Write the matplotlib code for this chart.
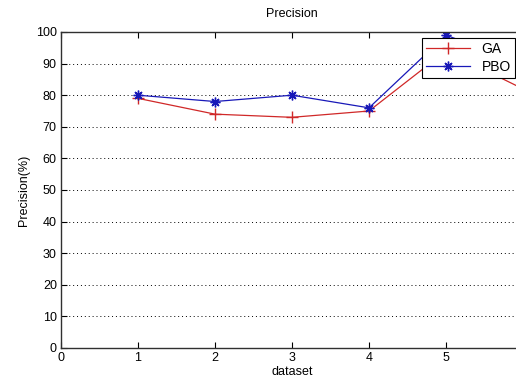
import numpy as np
import matplotlib.pyplot as plt

plt.rcParams['font.family'] = ['Liberation Sans', 'DejaVu Sans']

# data
datasets = [1, 2, 3, 4, 5, 6]
ga = [79, 74, 73, 75, 94, 82]
pbo = [80, 78, 80, 76, 99, 90]
xtick_labels = ['0', '1', '2', '3', '4', '5', '']

fig = plt.figure(figsize=(5.16, 3.77), dpi=100)
ax = fig.add_axes([61 / 516, 29 / 377, 462 / 516, 316 / 377])

ax.plot(datasets, ga, color='#d02828', marker='+', markersize=8, linewidth=0.9, label='GA')
ax.plot(datasets, pbo, color='#1818b8', marker=(8, 2, 0), markersize=7,
        markeredgewidth=1.0, linewidth=0.9, label='PBO')

ax.set_xlim(0, 6)
ax.set_ylim(0, 100)
ax.set_xticks(range(0, 7))
ax.set_xticklabels(xtick_labels)
ax.set_yticks(range(0, 101, 10))
ax.tick_params(direction='in', top=True, right=False, labelsize=9, length=4, pad=3)
ax.yaxis.grid(True, linestyle=(0, (1, 3)), color='black', linewidth=0.7)
for s in ax.spines.values():
    s.set_linewidth(1.0)
    s.set_color('#303030')
ax.spines['right'].set_visible(False)

ax.set_title('Precision', fontsize=9, pad=11)
ax.set_xlabel('dataset', fontsize=9, labelpad=1)
ax.set_ylabel('Precision(%)', fontsize=9, labelpad=4)

leg = ax.legend(loc='upper right', bbox_to_anchor=(515 / 516, 1 - 38 / 377),
                bbox_transform=fig.transFigure, fontsize=10, fancybox=False,
                framealpha=1, edgecolor='black', borderaxespad=0, handlelength=3.2,
                borderpad=0.3, labelspacing=0.25)
leg.get_frame().set_linewidth(0.8)

fig.savefig('out.png', dpi=100, facecolor='white')
